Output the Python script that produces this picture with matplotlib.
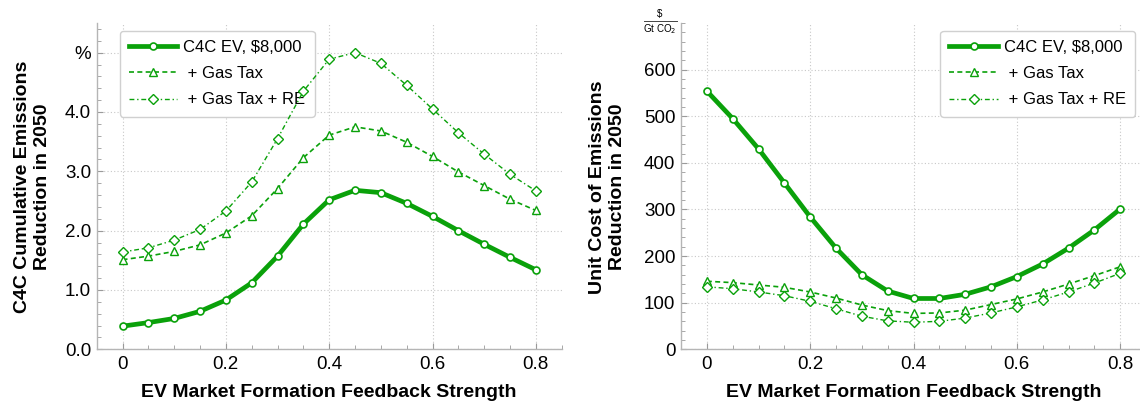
import matplotlib
matplotlib.use('agg')

import numpy as np
import matplotlib.pyplot as plt
from matplotlib.lines import Line2D
from matplotlib.ticker import MultipleLocator

plt.rcParams['font.family'] = ['Liberation Sans', 'DejaVu Sans']

# feedback strength values shared by both panels
strength = [0.0, 0.05, 0.10, 0.15, 0.20, 0.25, 0.30, 0.35, 0.40,
			0.45, 0.50, 0.55, 0.60, 0.65, 0.70, 0.75, 0.80]

# cumulative emissions reduction in 2050, %
red_ev = [0.39, 0.45, 0.52, 0.64, 0.83, 1.12, 1.57, 2.11, 2.52,
		  2.68, 2.64, 2.46, 2.24, 2.00, 1.77, 1.55, 1.34]
red_tax = [1.51, 1.57, 1.65, 1.76, 1.96, 2.25, 2.71, 3.23, 3.61,
		   3.75, 3.68, 3.49, 3.25, 2.99, 2.76, 2.53, 2.34]
red_re = [1.64, 1.71, 1.84, 2.02, 2.33, 2.82, 3.55, 4.35, 4.89,
		  5.00, 4.82, 4.45, 4.05, 3.65, 3.29, 2.95, 2.67]

# unit cost of emissions reduction in 2050, $ / Gt CO2
cost_ev = [554, 495, 430, 357, 284, 217, 160, 125, 109,
		   109, 118, 134, 156, 183, 217, 256, 301]
cost_tax = [146, 143, 138, 133, 123, 110, 95, 83, 77,
			78, 84, 96, 108, 123, 140, 158, 177]
cost_re = [134, 130, 123, 115, 103, 87, 71, 61, 58,
		   60, 67, 78, 91, 106, 123, 142, 163]

series_labels = ['C4C EV, $8,000', ' + Gas Tax', ' + Gas Tax + RE']
x_ticks = [0, 0.2, 0.4, 0.6, 0.8]
x_ticklabels = ['0', '0.2', '0.4', '0.6', '0.8']
left_yticks = [0, 1, 2, 3, 4, 5]
left_yticklabels = ['0.0', '1.0', '2.0', '3.0', '4.0', '%']
right_yticks = [0, 100, 200, 300, 400, 500, 600]
right_yticklabels = ['0', '100', '200', '300', '400', '500', '600']

GREEN = '#0aa10a'
W, H = 1140, 405


def draw_panel(ax, ys, ylim, yticks, yticklabels, minor):
	ev, tax, re = ys
	ax.plot(strength, ev, color=GREEN, lw=3.4, marker='o', ms=5,
			mfc='white', mec=GREEN, mew=1.2, zorder=4, label=series_labels[0])
	ax.plot(strength, tax, color=GREEN, lw=1.2, dashes=(3, 2), marker='^',
			ms=6, mfc='white', mec=GREEN, mew=1.0, zorder=4,
			label=series_labels[1])
	ax.plot(strength, re, color=GREEN, lw=1.0, dashes=(3.5, 2, 1, 2),
			marker='D', ms=5, mfc='white', mec=GREEN, mew=1.0, zorder=4,
			label=series_labels[2])

	ax.set_xlim(-0.05, 0.85)
	ax.set_ylim(*ylim)
	ax.set_xticks(x_ticks)
	ax.set_xticklabels(x_ticklabels)
	ax.set_yticks(yticks)
	ax.set_yticklabels(yticklabels)
	ax.xaxis.set_minor_locator(MultipleLocator(0.05))
	ax.yaxis.set_minor_locator(MultipleLocator(minor))
	ax.tick_params(which='both', direction='in', colors='#9a9a9a',
				   labelcolor='black', labelsize=13.5, top=False, right=False)
	ax.tick_params(which='major', length=4.5, width=0.8)
	ax.tick_params(which='minor', length=3, width=0.6)
	ax.tick_params(axis='y', pad=4)
	ax.tick_params(axis='x', pad=5)

	for side in ('top', 'right'):
		ax.spines[side].set_visible(False)
	for side in ('left', 'bottom'):
		ax.spines[side].set_color('#b5b5b5')
		ax.spines[side].set_linewidth(1.0)

	ax.grid(True, which='major', color='#c8c8c8', linestyle=(0, (1, 2)),
			linewidth=0.8)
	ax.set_axisbelow(True)

	ax.set_xlabel('EV Market Formation Feedback Strength', fontsize=14,
				  fontweight='bold', labelpad=8)


fig = plt.figure(figsize=(W / 100, H / 100), dpi=100)
ax_w = 465 / W
ax_h = 326.3 / H
ax_b = (H - 349.3) / H
ax1 = fig.add_axes([96.7 / W, ax_b, ax_w, ax_h])
ax2 = fig.add_axes([681.0 / W, ax_b, ax_w, ax_h])

draw_panel(ax1, (red_ev, red_tax, red_re), (0, 5.5),
		   left_yticks, left_yticklabels, 0.2)
draw_panel(ax2, (cost_ev, cost_tax, cost_re), (0, 700),
		   right_yticks, right_yticklabels, 20)

leg_kw = dict(fontsize=12, frameon=True, fancybox=True, framealpha=1,
			  edgecolor='#d0d0d0', handlelength=2.9, handletextpad=0.35,
			  labelspacing=0.68, borderpad=0.55, borderaxespad=0)
leg1 = ax1.legend(loc='upper left', bbox_to_anchor=(0.05, 0.977), **leg_kw)
leg2 = ax2.legend(loc='upper right', bbox_to_anchor=(0.976, 0.977), **leg_kw)
for leg in (leg1, leg2):
	leg.set_zorder(2)

# two-line y labels
fig.text(32.5 / W, 1 - 187 / H, 'C4C Cumulative Emissions\nReduction in 2050',
		 rotation=90, ha='center', va='center', fontsize=14,
		 fontweight='bold', multialignment='center', linespacing=1.2)
fig.text(607.5 / W, 1 - 187 / H, 'Unit Cost of Emissions\nReduction in 2050',
		 rotation=90, ha='center', va='center', fontsize=14,
		 fontweight='bold', multialignment='center', linespacing=1.2)

# unit of the right panel, written as a small fraction
fig.text(660 / W, 1 - 14 / H, '$', ha='center', va='center', fontsize=7)
fig.text(660 / W, 1 - 29 / H, 'Gt CO$_2$', ha='center', va='center',
		 fontsize=7)
fig.add_artist(Line2D([644 / W, 677 / W], [1 - 21 / H, 1 - 21 / H],
					  transform=fig.transFigure, color='#444444', lw=0.7))

fig.savefig('out.png', dpi=100)
